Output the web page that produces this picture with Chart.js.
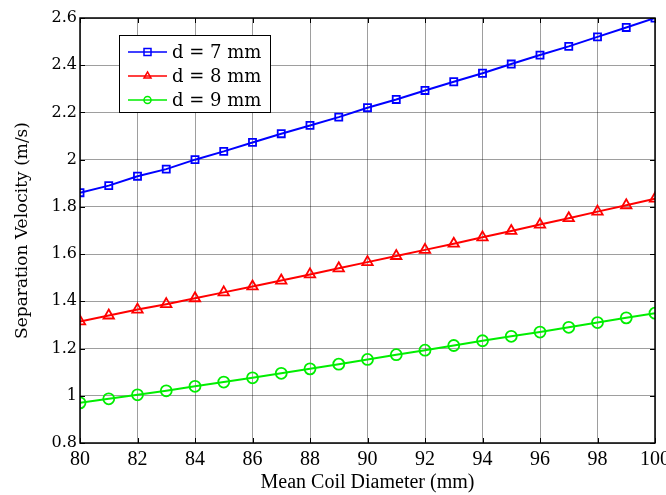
<!DOCTYPE html>
<html>
<head>
<meta charset="utf-8">
<script src="https://cdn.jsdelivr.net/npm/chart.js@4.4.0/dist/chart.umd.min.js"></script>
<style>
  html, body { margin: 0; padding: 0; background: #fff; }
  #wrap { width: 666px; height: 495px; }
</style>
</head>
<body>
<div id="wrap"><canvas id="c" width="666" height="495"></canvas></div>
<script>
// ---- data ----
const diameters = [80, 81, 82, 83, 84, 85, 86, 87, 88, 89, 90, 91, 92, 93, 94, 95, 96, 97, 98, 99, 100];
const vel7mm = [1.86, 1.89, 1.93, 1.96, 2.00, 2.035, 2.073, 2.11, 2.145, 2.18, 2.22, 2.255, 2.293, 2.33, 2.366, 2.405, 2.443, 2.48, 2.52, 2.56, 2.60];
const vel8mm = [1.315, 1.34, 1.365, 1.388, 1.413, 1.438, 1.463, 1.488, 1.514, 1.54, 1.566, 1.592, 1.618, 1.644, 1.671, 1.698, 1.725, 1.752, 1.78, 1.807, 1.835];
const vel9mm = [0.97, 0.987, 1.004, 1.021, 1.04, 1.058, 1.076, 1.095, 1.114, 1.134, 1.154, 1.174, 1.193, 1.213, 1.233, 1.252, 1.27, 1.29, 1.31, 1.33, 1.35];
const seriesLabels = ['d = 7 mm', 'd = 8 mm', 'd = 9 mm'];

const toPts = ys => ys.map((y, i) => ({ x: diameters[i], y }));

// draw one marker by style
function marker(ctx, style, x, y, r) {
  ctx.beginPath();
  if (style === 'rect') {
    ctx.rect(x - r, y - r, 2 * r, 2 * r);
  } else if (style === 'triangle') {
    ctx.moveTo(x, y - r * 1.15);
    ctx.lineTo(x + r, y + r * 0.6);
    ctx.lineTo(x - r, y + r * 0.6);
    ctx.closePath();
  } else {
    ctx.arc(x, y, r, 0, Math.PI * 2);
  }
  ctx.stroke();
}

// frame + inward ticks on all four sides
const FramePlugin = {
  id: 'frame',
  afterDatasetsDraw(chart) {
    const { ctx, chartArea: a, scales: { x, y } } = chart;
    ctx.save();
    ctx.strokeStyle = '#000';
    ctx.lineWidth = 1;
    const len = 5;
    ctx.beginPath();
    x.ticks.forEach(t => {
      const px = Math.round(x.getPixelForValue(t.value)) + 0.5;
      ctx.moveTo(px, a.bottom); ctx.lineTo(px, a.bottom - len);
      ctx.moveTo(px, a.top); ctx.lineTo(px, a.top + len);
    });
    y.ticks.forEach(t => {
      const py = Math.round(y.getPixelForValue(t.value)) + 0.5;
      ctx.moveTo(a.left, py); ctx.lineTo(a.left + len, py);
      ctx.moveTo(a.right, py); ctx.lineTo(a.right - len, py);
    });
    ctx.stroke();
    ctx.lineWidth = 1.5;
    ctx.strokeRect(a.left, a.top, a.right - a.left, a.bottom - a.top);
    ctx.restore();
  }
};

// boxed legend inside the plot, top-left
const BoxLegendPlugin = {
  id: 'boxLegend',
  afterDraw(chart) {
    const { ctx, chartArea: a } = chart;
    const bx = a.left + 39, by = a.top + 17, bw = 151, bh = 77;
    ctx.save();
    ctx.fillStyle = '#fff';
    ctx.fillRect(bx, by, bw, bh);
    ctx.strokeStyle = '#000';
    ctx.lineWidth = 1;
    ctx.strokeRect(bx + 0.5, by + 0.5, bw, bh);
    ctx.font = '18px "DejaVu Serif"';
    ctx.textBaseline = 'middle';
    chart.data.datasets.forEach((ds, i) => {
      const ry = by + 17 + i * 24;
      ctx.strokeStyle = ds.borderColor;
      ctx.lineWidth = 1.5;
      ctx.beginPath();
      ctx.moveTo(bx + 9, ry); ctx.lineTo(bx + 48, ry);
      ctx.stroke();
      marker(ctx, ds.pointStyle, bx + 28.5, ry, 3.5);
      ctx.fillStyle = '#000';
      ctx.fillText(ds.label, bx + 53, ry + 1);
    });
    ctx.restore();
  }
};

const styles = [
  { color: '#0000ff', point: 'rect', r: 5 },
  { color: '#ff0000', point: 'triangle', r: 6 },
  { color: '#00ee00', point: 'circle', r: 5.5 }
];

new Chart(document.getElementById('c'), {
  type: 'line',
  plugins: [FramePlugin, BoxLegendPlugin],
  data: {
    datasets: [vel7mm, vel8mm, vel9mm].map((ys, i) => ({
      label: seriesLabels[i],
      data: toPts(ys),
      borderColor: styles[i].color,
      backgroundColor: 'rgba(0,0,0,0)',
      borderWidth: 2,
      pointStyle: styles[i].point,
      pointRadius: styles[i].r,
      pointBorderWidth: 1.8,
      pointBorderColor: styles[i].color,
      pointBackgroundColor: 'rgba(0,0,0,0)',
      tension: 0
    }))
  },
  options: {
    responsive: false,
    animation: false,
    layout: { padding: { top: 18, right: 11, left: 0, bottom: 0 } },
    plugins: { legend: { display: false }, tooltip: { enabled: false } },
    scales: {
      x: {
        type: 'linear',
        min: 80, max: 100,
        afterFit(s) { s.height = 52; s.paddingRight = 0; s.paddingLeft = 0; },
        ticks: { stepSize: 2, color: '#000', padding: 5, font: { family: 'Liberation Serif', size: 20 } },
        grid: { color: 'rgba(0,0,0,0.38)', drawTicks: false },
        border: { display: false },
        title: { display: true, text: 'Mean Coil Diameter (mm)', color: '#000', padding: { top: 0, bottom: 0 }, font: { family: 'Liberation Serif', size: 20 } }
      },
      y: {
        min: 0.8, max: 2.6,
        afterFit(s) { s.width = 80; s.paddingTop = 0; s.paddingBottom = 0; },
        ticks: {
          stepSize: 0.2, color: '#000', padding: 3,
          font: { family: 'DejaVu Serif', size: 16 },
          callback: v => String(Number(v.toFixed(1)))
        },
        grid: { color: 'rgba(0,0,0,0.38)', drawTicks: false },
        border: { display: false },
        title: { display: true, text: 'Separation Velocity (m/s)', color: '#000', padding: { top: 12, bottom: 4 }, font: { family: 'DejaVu Serif', size: 17 } }
      }
    }
  }
});
</script>
</body>
</html>
